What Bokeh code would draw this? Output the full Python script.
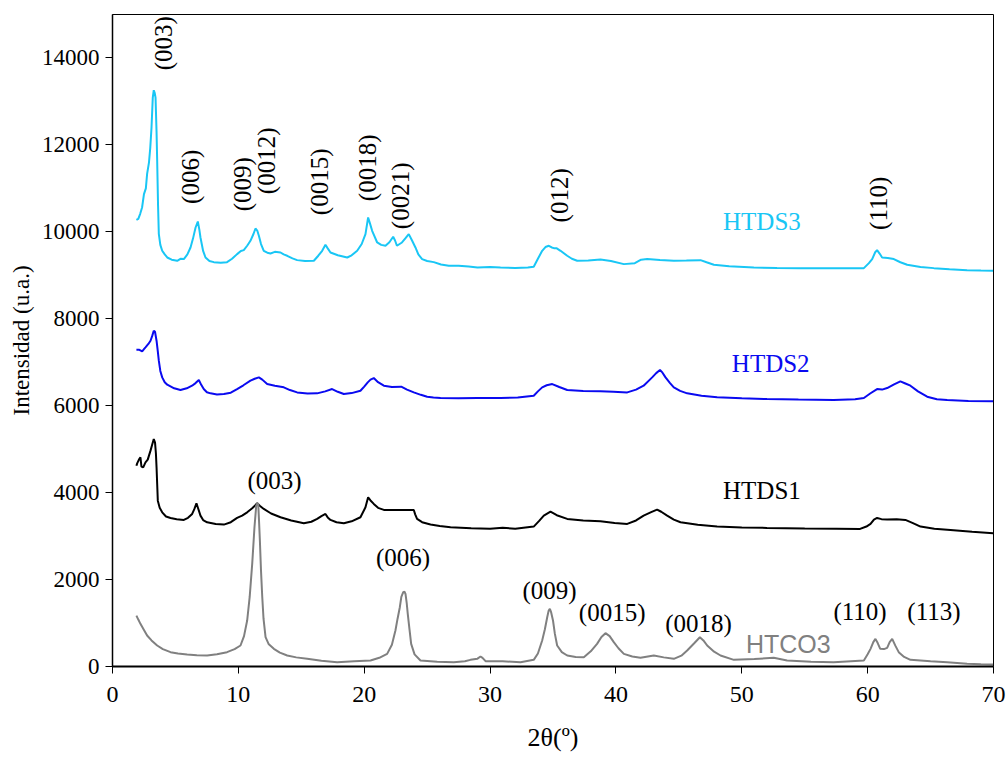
from math import pi
from bokeh.plotting import figure
from bokeh.models import ColumnDataSource, LabelSet, Label, Range1d, FixedTicker
from bokeh.core.properties import value
from bokeh.embed import file_html
from bokeh.resources import INLINE

# ---------------- data ----------------
htds3_x = [1.9, 2.05, 2.2, 2.35, 2.5, 2.65, 2.75, 2.9, 3.0, 3.1, 3.2, 3.28, 3.35, 3.42, 3.5, 3.55, 3.62, 3.68, 3.8, 3.95,
           4.15, 4.35, 4.7, 5.14, 5.4, 5.67, 5.95, 6.2, 6.4, 6.6, 6.78, 6.9, 6.99, 7.2, 7.39, 7.7, 8.05, 8.6, 9.1, 9.5,
           9.9, 10.2, 10.43, 10.7, 10.96, 11.2, 11.36, 11.5, 11.63, 11.8, 12.02, 12.3, 12.55, 12.9, 13.35, 13.6, 13.88,
           14.3, 14.67, 15.3, 16.0, 16.35, 16.66, 16.92, 17.1, 17.32, 17.9, 18.65, 19.0, 19.44, 19.8, 20.1, 20.31, 20.45,
           20.63, 21.03, 21.35, 21.69, 22.0, 22.3, 22.45, 22.6, 23.0, 23.3, 23.54, 23.8, 24.07, 24.3, 24.6, 25.0, 25.53,
           26.1, 26.72, 27.5, 28.3, 29.0, 30.0, 30.83, 32.0, 33.0, 33.47, 33.8, 34.14, 34.4, 34.67, 34.9, 35.07, 35.3,
           35.6, 36.13, 36.5, 36.92, 37.8, 38.77, 39.6, 40.63, 41.5, 42.0, 42.48, 43.5, 44.6, 45.6, 46.72, 47.2, 47.78,
           49.0, 50.96, 52.8, 54.66, 57.0, 59.0, 59.7, 60.1, 60.36, 60.6, 60.75, 60.95, 61.15, 61.6, 62.08, 62.6, 63.14,
           64.2, 65.26, 66.5, 67.9, 69.0, 69.97]
htds3_y = [10277, 10300, 10415, 10560, 10867, 11000, 11334, 11600, 11932, 12400, 13088, 13258, 13200, 13088, 12300, 11633,
           10600, 9955, 9700, 9564, 9480, 9410, 9360, 9334, 9380, 9373, 9480, 9640, 9850, 10100, 10238, 10050, 9870, 9560,
           9410, 9330, 9303, 9290, 9303, 9380, 9487, 9560, 9579, 9680, 9794, 9950, 10077, 10030, 9909, 9720, 9564, 9520,
           9502, 9540, 9525, 9480, 9449, 9390, 9349, 9330, 9334, 9450, 9564, 9702, 9620, 9525, 9460, 9410, 9460, 9564,
           9720, 9948, 10330, 10200, 10024, 9755, 9700, 9679, 9760, 9886, 9800, 9679, 9755, 9860, 9948, 9800, 9640, 9480,
           9373, 9330, 9303, 9250, 9219, 9220, 9200, 9180, 9190, 9180, 9170, 9180, 9196, 9380, 9564, 9650, 9679, 9640,
           9625, 9620, 9564, 9449, 9380, 9334, 9340, 9364, 9330, 9257, 9280, 9360, 9373, 9350, 9334, 9340, 9349, 9300,
           9242, 9210, 9180, 9170, 9165, 9160, 9160, 9165, 9280, 9373, 9530, 9579, 9500, 9410, 9400, 9373, 9300, 9242,
           9190, 9165, 9140, 9119, 9110, 9104]

htds2_x = [1.9, 2.1, 2.36, 2.5, 2.62, 2.85, 3.02, 3.15, 3.28, 3.38, 3.5, 3.6, 3.68, 3.8, 3.95, 4.15, 4.35, 4.9, 5.4, 5.9,
           6.32, 6.6, 6.86, 7.05, 7.25, 7.5, 7.79, 8.3, 8.85, 9.4, 9.9, 10.4, 10.96, 11.3, 11.63, 11.9, 12.29, 12.9, 13.61,
           14.1, 14.67, 15.5, 16.26, 16.9, 17.45, 17.9, 18.38, 19.0, 19.7, 20.0, 20.28, 20.5, 20.76, 21.1, 21.56, 22.2,
           22.94, 23.4, 23.94, 24.5, 25.0, 25.5, 26.06, 27.5, 29.0, 30.83, 32.2, 33.47, 33.8, 34.14, 34.5, 34.94, 35.5,
           36.13, 37.4, 38.77, 39.8, 40.9, 41.6, 42.2, 42.88, 43.2, 43.5, 43.7, 43.94, 44.3, 44.6, 45.1, 45.66, 46.8,
           48.04, 50.0, 52.0, 54.5, 57.3, 59.0, 59.7, 60.2, 60.75, 61.15, 61.55, 62.1, 62.6, 63.0, 63.4, 64.0, 64.73,
           65.5, 66.32, 68.0, 69.97]
htds2_y = [7288, 7290, 7250, 7300, 7341, 7420, 7495, 7600, 7725, 7700, 7495, 7250, 7035, 6800, 6651, 6540, 6483, 6400,
           6360, 6400, 6460, 6520, 6591, 6480, 6383, 6310, 6284, 6260, 6268, 6300, 6383, 6470, 6575, 6620, 6651, 6600,
           6498, 6460, 6422, 6360, 6306, 6280, 6284, 6330, 6383, 6320, 6268, 6290, 6345, 6440, 6537, 6600, 6636, 6540,
           6460, 6430, 6437, 6370, 6306, 6250, 6207, 6190, 6176, 6170, 6175, 6176, 6190, 6230, 6330, 6422, 6470, 6498,
           6430, 6360, 6340, 6330, 6320, 6306, 6370, 6460, 6651, 6750, 6820, 6760, 6651, 6520, 6422, 6340, 6284, 6230,
           6192, 6170, 6153, 6140, 6130, 6150, 6176, 6280, 6383, 6370, 6406, 6490, 6560, 6510, 6460, 6330, 6207, 6150,
           6130, 6110, 6100]

htds1_x = [1.9, 1.96, 2.1, 2.22, 2.3, 2.44, 2.62, 2.8, 3.02, 3.15, 3.28, 3.38, 3.45, 3.5, 3.55, 3.6, 3.75, 3.95, 4.25,
           4.61, 5.1, 5.67, 6.0, 6.33, 6.5, 6.67, 6.8, 6.99, 7.2, 7.52, 8.2, 8.85, 9.4, 9.9, 10.3, 10.7, 11.1, 11.5, 11.7,
           12.02, 12.6, 13.35, 14.2, 15.2, 15.8, 16.26, 16.6, 16.92, 17.1, 17.32, 17.8, 18.38, 19.0, 19.7, 20.1, 20.31,
           20.5, 20.76, 21.1, 21.56, 22.5, 23.2, 23.94, 24.05, 24.2, 24.6, 25.27, 26.0, 26.86, 28.5, 30.0, 31.0, 32.0,
           33.47, 33.9, 34.27, 34.8, 35.3, 36.13, 37.4, 38.77, 39.9, 40.9, 41.6, 42.2, 42.8, 43.27, 43.6, 44.07, 44.6,
           45.13, 46.5, 48.04, 50.0, 52.0, 55.0, 57.5, 59.4, 59.9, 60.23, 60.5, 60.75, 61.1, 61.55, 62.3, 63.0, 63.6,
           64.2, 65.3, 66.58, 68.3, 69.97]
htds1_y = [4620, 4674, 4760, 4812, 4600, 4582, 4697, 4760, 4966, 5100, 5235, 5150, 4900, 4582, 4200, 3816, 3650, 3547,
           3450, 3418, 3390, 3373, 3420, 3510, 3620, 3754, 3640, 3471, 3370, 3318, 3280, 3265, 3320, 3418, 3470, 3547,
           3640, 3754, 3700, 3625, 3520, 3433, 3360, 3295, 3330, 3395, 3460, 3510, 3430, 3372, 3320, 3295, 3340, 3433,
           3662, 3892, 3820, 3740, 3650, 3602, 3600, 3600, 3602, 3500, 3395, 3320, 3265, 3230, 3203, 3180, 3170, 3190,
           3170, 3219, 3350, 3471, 3563, 3480, 3395, 3360, 3341, 3300, 3280, 3360, 3471, 3550, 3610, 3560, 3471, 3380,
           3318, 3260, 3219, 3200, 3188, 3175, 3170, 3165, 3220, 3280, 3380, 3418, 3390, 3380, 3390, 3372, 3300, 3219,
           3170, 3142, 3100, 3065]

htco3_x = [1.9, 2.05, 2.22, 2.5, 2.75, 3.1, 3.55, 4.0, 4.61, 5.2, 5.93, 6.7, 7.52, 8.3, 9.1, 9.7, 10.17, 10.45, 10.7,
           10.9, 11.1, 11.28, 11.42, 11.5, 11.58, 11.65, 11.71, 11.8, 11.9, 12.0, 12.16, 12.4, 12.82, 13.3, 13.88, 14.6,
           15.47, 16.6, 17.85, 19.2, 20.5, 21.2, 21.82, 22.2, 22.48, 22.65, 22.83, 22.95, 23.1, 23.2, 23.28, 23.38, 23.46,
           23.6, 23.73, 24.0, 24.47, 25.8, 27.12, 28.0, 28.44, 29.0, 29.24, 29.4, 29.64, 31.0, 32.42, 33.47, 33.8, 34.14,
           34.35, 34.54, 34.65, 34.75, 34.85, 35.0, 35.15, 35.33, 35.7, 36.13, 36.8, 37.45, 38.0, 38.5, 38.85, 39.17,
           39.5, 39.83, 40.2, 40.63, 41.3, 41.95, 43.01, 43.8, 44.6, 45.2, 45.66, 46.2, 46.67, 46.95, 47.25, 47.8, 48.31,
           49.37, 51.0, 52.54, 53.6, 55.5, 57.3, 59.7, 60.0, 60.23, 60.45, 60.62, 60.8, 61.0, 61.3, 61.55, 61.75, 61.95,
           62.2, 62.47, 62.9, 63.4, 65.0, 66.32, 67.9, 69.0, 69.97]
htco3_y = [1172, 1080, 981, 840, 713, 600, 483, 400, 330, 300, 276, 260, 253, 280, 330, 400, 483, 700, 1058, 1600, 2361,
           3203, 3701, 3750, 3740, 3300, 2897, 2200, 1594, 1100, 674, 520, 406, 320, 253, 210, 176, 130, 100, 120, 138,
           200, 291, 500, 828, 1100, 1364, 1600, 1709, 1720, 1671, 1450, 1211, 850, 521, 280, 138, 110, 100, 120, 153,
           180, 230, 200, 122, 120, 100, 153, 300, 598, 850, 1134, 1280, 1326, 1250, 1058, 750, 483, 330, 253, 220, 215,
           350, 521, 680, 767, 700, 560, 420, 291, 230, 199, 253, 210, 176, 250, 368, 530, 674, 600, 483, 340, 253, 153,
           170, 199, 138, 110, 100, 138, 280, 406, 560, 636, 540, 406, 400, 429, 560, 636, 480, 330, 220, 153, 120, 100,
           61, 50, 46]

series_names = ["HTDS3", "HTDS2", "HTDS1", "HTCO3"]
series_colors = ["#19C6F5", "#0A0AF0", "#000000", "#808080"]

# peak annotations (rotated, on HTDS3)
rot_labels = ["(003)", "(006)", "(009)", "(0012)", "(0015)", "(0018)", "(0021)", "(012)", "(110)"]
rot_x = [4.05, 6.2, 10.3, 12.24, 16.45, 20.3, 22.92, 35.48, 60.9]
rot_y = [14340, 11265, 11097, 11633, 11150, 11472, 10828, 10840, 10656]

# peak annotations (horizontal, on HTCO3)
hor_labels = ["(003)", "(006)", "(009)", "(0015)", "(0018)", "(110)", "(113)"]
hor_x = [12.87, 23.08, 34.72, 39.7, 46.56, 59.4, 65.27]
hor_y = [4276, 2517, 1747, 1241, 988, 1264, 1264]

# series name label positions
name_x = [51.6, 52.3, 51.6, 53.7]
name_y = [10230, 6977, 4046, 529]

x_ticks = [0, 10, 20, 30, 40, 50, 60, 70]
y_ticks = [0, 2000, 4000, 6000, 8000, 10000, 12000, 14000]

# ---------------- figure ----------------
p = figure(width=1008, height=759, output_backend="svg", toolbar_location=None,
           x_range=Range1d(0, 70), y_range=Range1d(0, 15000))
p.min_border_left = 112
p.min_border_right = 15
p.min_border_top = 14
p.min_border_bottom = 93
p.background_fill_color = "white"
p.border_fill_color = "white"
p.outline_line_color = "black"
p.outline_line_width = 1
p.xgrid.visible = False
p.ygrid.visible = False

serif = "Liberation Serif"

for ax, ticks in ((p.xaxis[0], x_ticks), (p.yaxis[0], y_ticks)):
    ax.ticker = FixedTicker(ticks=ticks)
    ax.minor_tick_line_color = None
    ax.major_tick_out = 7
    ax.major_tick_in = 0
    ax.axis_line_color = "black"
    ax.major_tick_line_color = "black"
    ax.major_label_text_font = serif
    ax.major_label_text_color = "black"
    ax.axis_label_text_font = serif
    ax.axis_label_text_font_style = "normal"
    ax.axis_label_text_color = "black"

p.xaxis.axis_line_width = 2
p.yaxis.axis_line_width = 1.5
p.xaxis.major_label_text_font_size = "24px"
p.yaxis.major_label_text_font_size = "23px"
p.xaxis.major_label_standoff = 13
p.yaxis.major_label_standoff = 6
p.xaxis.axis_label = "2θ(º)"
p.xaxis.axis_label_text_font_size = "26px"
p.xaxis.axis_label_standoff = 18
p.yaxis.axis_label = "Intensidad (u.a.)"
p.yaxis.axis_label_text_font_size = "23px"
p.yaxis.axis_label_standoff = 5

data_x = [htds3_x, htds2_x, htds1_x, htco3_x]
data_y = [htds3_y, htds2_y, htds1_y, htco3_y]
for xs, ys, col in zip(data_x, data_y, series_colors):
    p.line(xs, ys, line_color=col, line_width=2)

rot_src = ColumnDataSource(dict(x=rot_x, y=rot_y, t=rot_labels))
p.add_layout(LabelSet(x="x", y="y", text="t", source=rot_src, angle=pi / 2,
                      text_align="center", text_baseline="middle",
                      text_font=value(serif), text_font_size=value("25px"),
                      text_color="black"))

hor_src = ColumnDataSource(dict(x=hor_x, y=hor_y, t=hor_labels))
p.add_layout(LabelSet(x="x", y="y", text="t", source=hor_src,
                      text_align="center", text_baseline="middle",
                      text_font=value(serif), text_font_size=value("25px"),
                      text_color="black"))

name_fonts = [serif, serif, serif, "Liberation Sans"]
for nm, nx, ny, col, fnt in zip(series_names, name_x, name_y, series_colors, name_fonts):
    p.add_layout(Label(x=nx, y=ny, text=nm, text_align="center", text_baseline="middle",
                       text_font=fnt, text_font_size="25px", text_color=col))

open("out.html", "w").write(file_html(p, INLINE))
